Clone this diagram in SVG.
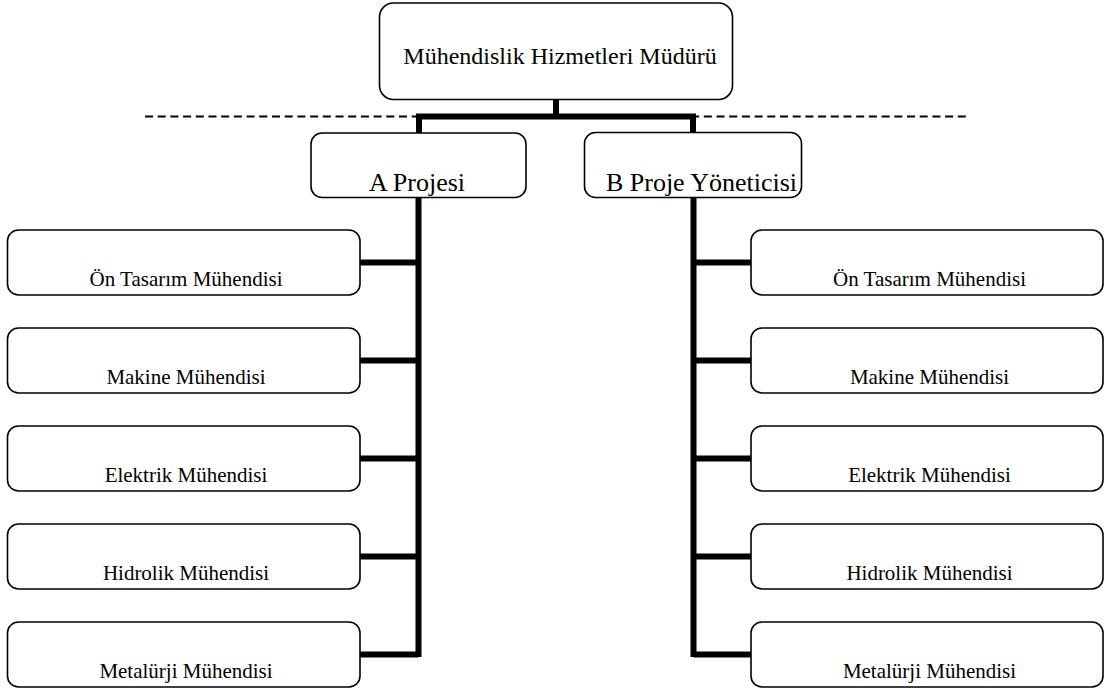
<svg xmlns="http://www.w3.org/2000/svg" width="1104" height="693" viewBox="0 0 1104 693">
<style>
.box{fill:#fff;stroke:#000;stroke-width:1.6}
.t{font-family:"Liberation Serif","Times New Roman",serif;fill:#000;text-anchor:middle}
.s{font-size:21px}
.m{font-size:26px}
.l{font-size:24px}
.c{stroke:#000;stroke-width:6;fill:none;stroke-linecap:butt}
.d{stroke:#000;stroke-width:2;stroke-dasharray:8,4.7;fill:none}
</style>
<rect width="1104" height="693" fill="#fff"/>
<line class="d" x1="145" y1="116.5" x2="966" y2="116.5"/>
<g id="connectors">
<path class="c" d="M556,99 V116.5 M416,116.5 H696 M419,116.5 V133 M693,116.5 V133"/>
<path class="c" d="M418.5,197 V657 M360,262.5 H418.5 M360,360.5 H418.5 M360,458.5 H418.5 M360,556.5 H418.5 M360,654.5 H418.5"/>
<path class="c" d="M693.5,197 V657 M693.5,262.5 H751 M693.5,360.5 H751 M693.5,458.5 H751 M693.5,556.5 H751 M693.5,654.5 H751"/>
</g>
<g id="n-top"><rect class="box" x="379.5" y="3" width="353" height="96.5" rx="14"/><text class="t l" x="560" y="64">Mühendislik Hizmetleri Müdürü</text></g>
<g id="n-a"><rect class="box" x="311" y="133" width="215" height="64.5" rx="11"/><text class="t m" x="417" y="191">A Projesi</text></g>
<g id="n-b"><rect class="box" x="584.5" y="132.5" width="217" height="65" rx="11"/><text class="t m" x="701.5" y="191">B Proje Yöneticisi</text></g>
<g id="n-l1"><rect class="box" x="7.5" y="230" width="352.5" height="65" rx="11"/><text class="t s" x="186" y="286">Ön Tasarım Mühendisi</text></g>
<g id="n-l2"><rect class="box" x="7.5" y="328" width="352.5" height="65" rx="11"/><text class="t s" x="186" y="384">Makine Mühendisi</text></g>
<g id="n-l3"><rect class="box" x="7.5" y="426" width="352.5" height="65" rx="11"/><text class="t s" x="186" y="482">Elektrik Mühendisi</text></g>
<g id="n-l4"><rect class="box" x="7.5" y="524" width="352.5" height="65" rx="11"/><text class="t s" x="186" y="580">Hidrolik Mühendisi</text></g>
<g id="n-l5"><rect class="box" x="7.5" y="622" width="352.5" height="65" rx="11"/><text class="t s" x="186" y="678">Metalürji Mühendisi</text></g>
<g id="n-r1"><rect class="box" x="751" y="230" width="352" height="65" rx="11"/><text class="t s" x="929.5" y="286">Ön Tasarım Mühendisi</text></g>
<g id="n-r2"><rect class="box" x="751" y="328" width="352" height="65" rx="11"/><text class="t s" x="929.5" y="384">Makine Mühendisi</text></g>
<g id="n-r3"><rect class="box" x="751" y="426" width="352" height="65" rx="11"/><text class="t s" x="929.5" y="482">Elektrik Mühendisi</text></g>
<g id="n-r4"><rect class="box" x="751" y="524" width="352" height="65" rx="11"/><text class="t s" x="929.5" y="580">Hidrolik Mühendisi</text></g>
<g id="n-r5"><rect class="box" x="751" y="622" width="352" height="65" rx="11"/><text class="t s" x="929.5" y="678">Metalürji Mühendisi</text></g>
</svg>
